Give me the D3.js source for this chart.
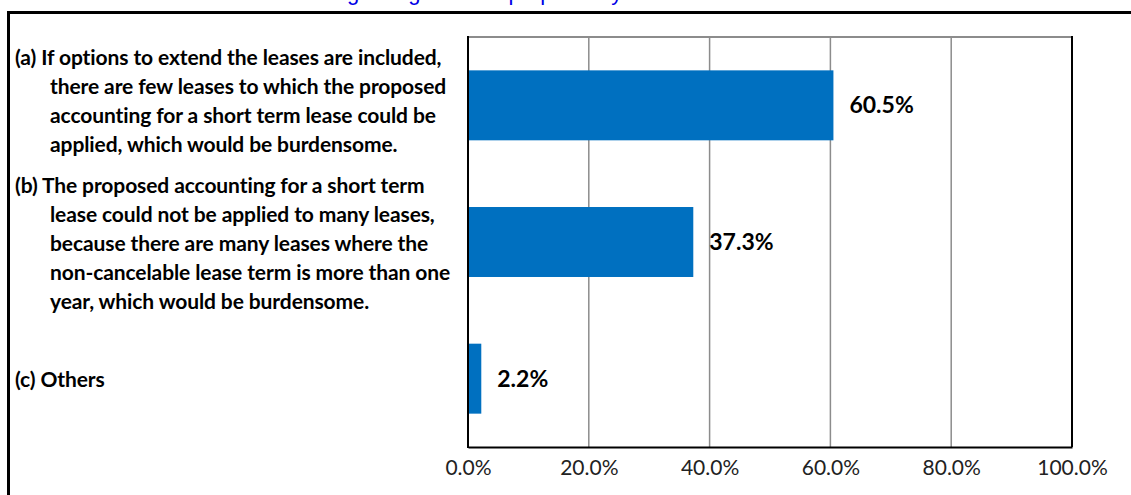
<!DOCTYPE html>
<html>
<head lang="en">
    <meta charset="UTF-8">
    <title>Reasons</title>
    <script src="https://cdn.jsdelivr.net/npm/d3@7/dist/d3.min.js"></script>
    <style>
        body{margin:0;background:#fff;overflow:hidden;}
        .cat{font-family:Lato,"Open Sans",sans-serif;font-weight:bold;font-size:21px;letter-spacing:-0.1px;fill:#000;}
        .tick text{font-family:Lato,"Open Sans",sans-serif;font-size:21px;fill:#222;}
        .val{font-family:Lato,"Open Sans",sans-serif;font-weight:bold;font-size:23px;fill:#000;}
    </style>
</head>
<body>
<div id="chart"></div>
<script>
    // data
    var categories=['a','b','c'];
    var categoryLines=[
        ['(a) If options to extend the leases are included,',
         'there are few leases to which the proposed',
         'accounting for a short term lease could be',
         'applied, which would be burdensome.'],
        ['(b) The proposed accounting for a short term',
         'lease could not be applied to many leases,',
         'because there are many leases where the',
         'non-cancelable lease term is more than one',
         'year, which would be burdensome.'],
        ['(c) Others']
    ];
    var values=[60.5,37.3,2.2];
    var ticks=[0,20,40,60,80,100];
    var title='Reasons for disagreeing with the proposal by lessees';

    var W=1131,H=495;
    var pLeft=468,pRight=1072,pTop=37,pBottom=447;

    var svg=d3.select('#chart').append('svg')
            .attr('width',W)
            .attr('height',H);

    // title, mostly cut off by the top edge
    var t=svg.append('text')
            .attr('y',-0.5)
            .attr('fill','#0000e6')
            .style('font-family','"Liberation Sans",Arial,sans-serif')
            .style('font-size','22px')
            .text(title);
    // line the first "g" up with the picture
    var pre=svg.append('text').style('font-family','"Liberation Sans",Arial,sans-serif')
            .style('font-size','22px').text('Reasons for disa');
    var w=pre.node().getComputedTextLength();
    pre.remove();
    t.attr('x',347-w);

    // outer frame
    svg.append('rect')
            .attr('x',8.5).attr('y',12.5)
            .attr('width',1300).attr('height',600)
            .attr('fill','none')
            .attr('stroke','#000')
            .attr('stroke-width',3);

    var x=d3.scaleLinear().domain([0,100]).range([pLeft,pRight]);
    var y=d3.scaleBand().domain(categories).range([pTop,pBottom])
            .paddingInner(0.488).paddingOuter(0.244);

    // grid
    svg.append('g').selectAll('line')
            .data(ticks.slice(1,-1))
            .enter().append('line')
            .attr('x1',function(d){return x(d)})
            .attr('x2',function(d){return x(d)})
            .attr('y1',pTop).attr('y2',pBottom)
            .attr('stroke','#8c8c8c')
            .attr('stroke-width',1.5);
    svg.append('line')
            .attr('x1',pLeft).attr('x2',pRight)
            .attr('y1',pTop).attr('y2',pTop)
            .attr('stroke','#8c8c8c').attr('stroke-width',2);

    // bars
    svg.append('g').selectAll('rect')
            .data(values)
            .enter().append('rect')
            .attr('x',x(0))
            .attr('y',function(d,i){return y(categories[i])})
            .attr('width',function(d){return x(d)-x(0)})
            .attr('height',y.bandwidth())
            .attr('fill','#0070c0');

    // frame of plot area
    svg.append('line').attr('x1',pRight).attr('x2',pRight).attr('y1',pTop-1).attr('y2',pBottom)
            .attr('stroke','#000').attr('stroke-width',2);
    svg.append('line').attr('x1',pLeft).attr('x2',pLeft).attr('y1',pTop-1).attr('y2',pBottom+1)
            .attr('stroke','#000').attr('stroke-width',2);

    // x axis
    var xAxis=d3.axisBottom(x)
            .tickValues(ticks)
            .tickSize(0)
            .tickPadding(13)
            .tickFormat(function(d){return d.toFixed(1)+'%'});
    var ga=svg.append('g')
            .attr('class','xaxis')
            .attr('transform','translate(0,'+pBottom+')')
            .call(xAxis);
    ga.select('.domain').attr('stroke','#000').attr('stroke-width',2);

    // value labels
    svg.append('g').selectAll('text')
            .data(values)
            .enter().append('text')
            .attr('class','val')
            .attr('x',function(d){return x(d)+16})
            .attr('y',function(d,i){return y(categories[i])+y.bandwidth()/2})
            .attr('dy','0.35em')
            .text(function(d){return d.toFixed(1)+'%'});

    // category labels (small nudges so the blocks sit like excel put them)
    var lh=29,nudge=[-4,2,1];
    categoryLines.forEach(function(lines,i){
        var cy=y(categories[i])+y.bandwidth()/2+nudge[i];
        var y0=cy-(lines.length-1)*lh/2;
        var g=svg.append('text').attr('class','cat');
        lines.forEach(function(s,j){
            g.append('tspan')
                    .attr('x',j==0?15:50)
                    .attr('y',y0+j*lh)
                    .attr('dy','0.35em')
                    .text(s);
        });
    });
</script>
</body>
</html>
